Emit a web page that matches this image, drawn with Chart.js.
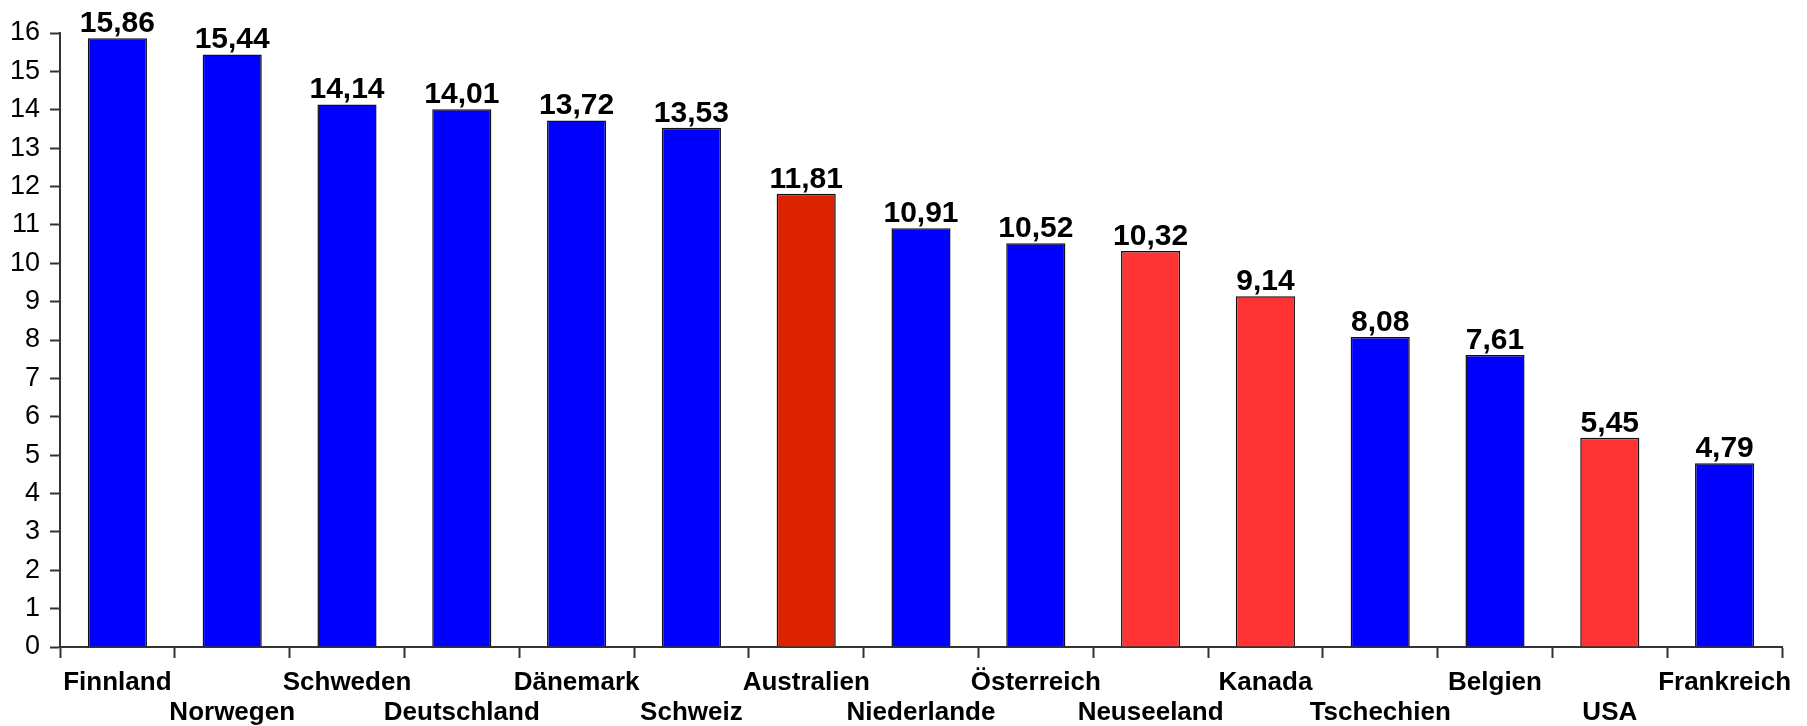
<!DOCTYPE html>
<html>
<head>
<meta charset="utf-8">
<script src="https://cdn.jsdelivr.net/npm/chart.js@4/dist/chart.umd.min.js"></script>
<style>
  html, body { margin: 0; padding: 0; background: #fff; }
</style>
</head>
<body>
<canvas id="myChart" width="1807" height="726"></canvas>
<script>
const countries = ['Finnland', 'Norwegen', 'Schweden', 'Deutschland', 'Dänemark', 'Schweiz', 'Australien',
  'Niederlande', 'Österreich', 'Neuseeland', 'Kanada', 'Tschechien', 'Belgien', 'USA', 'Frankreich'];
const values = [15.86, 15.44, 14.14, 14.01, 13.72, 13.53, 11.81, 10.91, 10.52, 10.32, 9.14, 8.08, 7.61, 5.45, 4.79];
const barColors = ['#0000ff', '#0000ff', '#0000ff', '#0000ff', '#0000ff', '#0000ff', '#dd2200',
  '#0000ff', '#0000ff', '#ff3333', '#ff3333', '#0000ff', '#0000ff', '#ff3333', '#0000ff'];
const yTicks = [0, 1, 2, 3, 4, 5, 6, 7, 8, 9, 10, 11, 12, 13, 14, 15, 16];

const FONT = 'Liberation Sans, Arial, Helvetica, sans-serif';

// value above each bar, german decimal comma
const valueLabels = {
  id: 'valueLabels',
  afterDatasetsDraw(chart) {
    const ctx = chart.ctx;
    const meta = chart.getDatasetMeta(0);
    ctx.save();
    ctx.font = 'bold 30px ' + FONT;
    ctx.fillStyle = '#000';
    ctx.textAlign = 'center';
    ctx.textBaseline = 'alphabetic';
    meta.data.forEach(function(bar, i){
      let txt = values[i].toFixed(2).replace('.', ',');
      ctx.fillText(txt, bar.x, bar.y - 6);
    });
    ctx.restore();
  }
};

const data = {
  labels: countries,
  datasets: [{
    data: values,
    backgroundColor: barColors,
    borderColor: '#111',
    borderWidth: 1.5,
    barPercentage: 0.515,
    categoryPercentage: 1
  }]
};

const config = {
  type: 'bar',
  data: data,
  plugins: [valueLabels],
  options: {
    responsive: false,
    animation: false,
    layout: { padding: { top: 33, right: 25, left: 0, bottom: 0 } },
    plugins: {
      legend: { display: false },
      tooltip: { enabled: false }
    },
    scales: {
      x: {
        offset: true,
        afterFit: function(s){ s.height = 79; },
        border: { color: '#333', width: 2 },
        grid: {
          offset: true,
          drawOnChartArea: false,
          tickLength: 11,
          tickWidth: 2,
          tickColor: function(c){ return c.index >= countries.length ? 'rgba(0,0,0,0)' : '#333'; }
        },
        ticks: {
          color: '#000',
          maxRotation: 0,
          autoSkip: false,
          padding: 10,
          font: { family: FONT, size: 26, weight: 'bold', lineHeight: 1.15 },
          // alternate labels between two rows
          callback: function(v, i){ return i % 2 == 0 ? [countries[i]] : ['', countries[i]]; }
        }
      },
      y: {
        min: 0,
        max: 16,
        afterFit: function(s){ s.width = 60; },
        afterBuildTicks: function(s){ s.ticks = yTicks.map(function(v){ return { value: v }; }); },
        border: { color: '#333', width: 2 },
        grid: {
          drawOnChartArea: false,
          tickLength: 10,
          tickWidth: 2,
          color: '#333'
        },
        ticks: {
          color: '#000',
          autoSkip: false,
          padding: 10,
          font: { family: FONT, size: 27 }
        }
      }
    }
  }
};

var myChart = new Chart(document.getElementById('myChart'), config);
</script>
</body>
</html>
